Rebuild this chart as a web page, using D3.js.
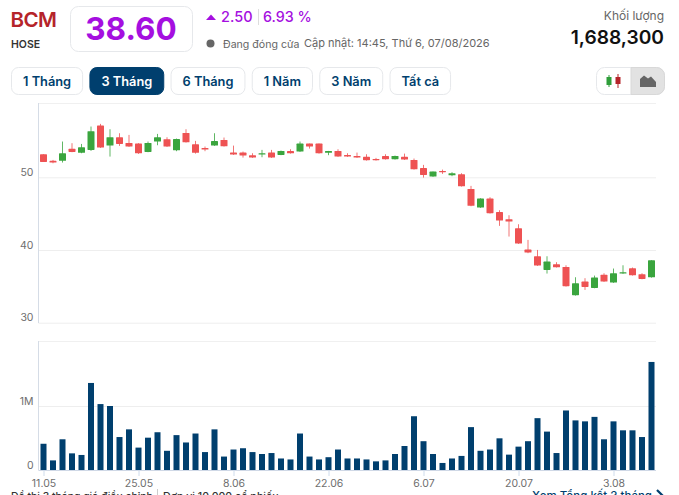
<!DOCTYPE html>
<html>
<head>
<meta charset="utf-8">
<script src="https://cdn.jsdelivr.net/npm/d3@7"></script>
<style>
html, body { margin: 0; padding: 0; background: #fff; overflow: hidden; }
svg { display: block; font-family: Inter, "Noto Sans", sans-serif; }
</style>
</head>
<body>
<script>
var dates = ['11.05','12.05','13.05','14.05','15.05','18.05','19.05','20.05','21.05','22.05',
  '25.05','26.05','27.05','28.05','29.05','1.06','2.06','3.06','4.06','5.06',
  '8.06','9.06','10.06','11.06','12.06','15.06','16.06','17.06','18.06','19.06',
  '22.06','23.06','24.06','25.06','26.06','29.06','30.06','1.07','2.07','3.07',
  '6.07','7.07','8.07','9.07','10.07','13.07','14.07','15.07','16.07','17.07',
  '20.07','21.07','22.07','23.07','24.07','27.07','28.07','29.07','30.07','31.07',
  '3.08','4.08','5.08','6.08','7.08'];

var opens = [53.17,52.26,52.26,53.91,53.36,53.77,57.12,54.36,55.51,54.73,
  54.64,53.49,54.92,55.24,53.72,56.11,54.55,54.04,54.36,55.14,
  53.40,53.40,53.04,53.13,53.40,53.08,53.63,53.54,54.64,54.64,
  53.36,53.63,53.08,52.94,52.81,52.53,52.94,52.49,52.81,52.39,
  51.29,50.10,50.88,50.28,50.42,48.40,45.84,47.07,45.24,44.23,
  42.99,40.06,39.14,37.26,38.04,37.67,33.78,35.66,34.79,36.58,
  35.52,36.76,37.49,36.67,36.25];
var highs = [53.17,52.39,54.92,54.69,54.59,56.98,57.35,56.61,56.06,55.83,
  54.69,54.92,55.97,55.51,55.33,56.61,55.01,54.23,56.06,55.47,
  54.36,53.54,53.31,53.77,53.77,53.68,53.86,54.92,54.64,54.64,
  53.63,53.86,53.31,53.40,53.17,52.67,53.17,52.99,53.26,52.58,
  51.71,50.79,51.06,50.70,50.56,48.82,47.12,47.26,45.47,44.78,
  43.54,41.39,40.01,39.14,38.32,37.90,36.25,36.12,36.48,36.80,
  37.45,37.90,37.59,36.80,38.60];
var lows = [52.12,51.93,52.03,53.45,53.31,53.63,54.04,52.85,54.32,54.18,
  53.22,53.45,54.41,54.18,53.59,54.78,53.26,53.59,54.32,54.23,
  53.08,52.71,52.67,52.76,52.67,53.04,53.26,53.49,53.95,53.26,
  53.04,52.81,52.81,52.67,52.30,52.30,52.44,52.44,52.39,51.06,
  49.96,50.06,50.47,50.15,48.73,46.02,45.79,45.02,43.32,41.85,
  40.84,39.56,37.81,36.76,37.59,34.97,33.73,34.51,34.74,35.61,
  35.48,36.71,36.48,35.97,36.20];
var closes = [52.12,52.03,53.31,53.49,54.14,56.34,54.09,55.51,54.59,54.23,
  53.31,54.73,55.51,54.23,55.28,54.82,53.36,53.81,55.01,54.27,
  53.13,52.99,52.71,53.31,52.71,53.63,53.31,54.64,54.23,53.31,
  53.63,52.85,52.85,52.71,52.35,52.35,52.49,52.94,52.44,51.11,
  50.33,50.79,50.70,50.56,48.77,46.07,47.07,45.06,44.05,43.91,
  40.89,39.65,37.86,38.41,37.63,35.02,35.43,34.92,36.21,35.66,
  36.80,36.94,36.53,36.02,38.60];
var volumes = [410000,150000,480000,260000,235000,1360000,1030000,1000000,515000,635000,
  350000,505000,590000,300000,545000,430000,570000,280000,635000,210000,
  320000,340000,280000,250000,265000,180000,165000,570000,210000,165000,
  200000,320000,180000,180000,165000,135000,150000,250000,375000,840000,
  450000,250000,110000,180000,220000,670000,300000,320000,495000,240000,
  365000,450000,810000,600000,265000,930000,775000,760000,830000,480000,
  760000,620000,620000,515000,1688300];

var dateTicks = ['11.05','25.05','8.06','22.06','6.07','20.07','3.08'];
var priceTicks = [30, 40, 50];
var volumeTicks = [0, 1000000];
var rangeLabels = ['1 Tháng','3 Tháng','6 Tháng','1 Năm','3 Năm','Tất cả'];
var activeRange = '3 Tháng';

var width = 679, height = 495;
var up = '#3aa53e', down = '#ee5253', navy = '#003f6e', purple = '#a50fe0';
var left = 38.5, right = 656;

var svg = d3.select('body').append('svg').attr('width', width).attr('height', height);

var x = d3.scalePoint().domain(dates).range([43.5, 651.5]);
var y = d3.scaleLinear().domain([30, 60]).range([322.7, 104.6]);
var yVol = d3.scaleLinear().domain([0, 2000000]).range([470, 342]);

// ---- header ----
function label(s, px, py, size, weight, color, anchor) {
  return svg.append('text').attr('x', px).attr('y', py).attr('font-size', size)
    .attr('font-weight', weight).attr('fill', color).attr('text-anchor', anchor || 'start').text(s);
}
label('BCM', 10.5, 27, 20.5, 600, '#b5242a').attr('letter-spacing', -0.5);
label('HOSE', 11, 48, 10.5, 600, '#333');
svg.append('rect').attr('x', 70.5).attr('y', 6.5).attr('width', 122).attr('height', 45).attr('rx', 8)
  .attr('fill', '#fff').attr('stroke', '#e6e8eb');
label('38.60', 131, 40, 31.5, 700, purple, 'middle');
svg.append('path').attr('d', 'M206,20L211,14.5L216,20Z').attr('fill', purple);
label('2.50', 221, 22, 14.5, 500, purple);
svg.append('line').attr('x1', 258.5).attr('x2', 258.5).attr('y1', 9).attr('y2', 25).attr('stroke', '#ddd');
label('6.93 %', 263, 22, 14.3, 500, purple);
svg.append('circle').attr('cx', 210.5).attr('cy', 43.5).attr('r', 4).attr('fill', '#666');
label('Đang đóng cửa', 223, 48, 10.6, 400, '#666');
label('Cập nhật: 14:45, Thứ 6, 07/08/2026', 304, 47, 11, 400, '#666');
label('Khối lượng', 664, 20, 12, 400, '#666', 'end');
label('1,688,300', 664, 44, 19.2, 600, '#111', 'end');

// ---- range buttons ----
var bx = 11;
rangeLabels.forEach(function(s) {
  var active = s === activeRange;
  var g = svg.append('g');
  var r = g.append('rect').attr('y', 67.5).attr('height', 27).attr('rx', 7)
    .attr('fill', active ? navy : '#fff').attr('stroke', active ? navy : '#e6e8eb');
  var t = g.append('text').attr('y', 86).attr('font-size', 12.8).attr('font-weight', 600)
    .attr('fill', active ? '#fff' : navy).attr('text-anchor', 'middle').text(s);
  var w = t.node().getComputedTextLength() + 23;
  r.attr('x', bx + 0.5).attr('width', w);
  t.attr('x', bx + 0.5 + w / 2);
  bx += w + 7.3;
});

// ---- chart type toggle ----
svg.append('rect').attr('x', 596.5).attr('y', 67.5).attr('width', 68).attr('height', 27).attr('rx', 8)
  .attr('fill', '#fff').attr('stroke', '#e6e8eb');
svg.append('path').attr('d', 'M631,67.5H656.5a8,8 0 0 1 8,8V86.5a8,8 0 0 1 -8,8H631Z')
  .attr('fill', '#e2e2e2').attr('stroke', '#d8d8d8');
svg.append('path').attr('d', 'M609,75V87').attr('stroke', '#2f9e3a');
svg.append('rect').attr('x', 606.5).attr('y', 77).attr('width', 5).attr('height', 8).attr('fill', '#2f9e3a');
svg.append('path').attr('d', 'M618,74V88').attr('stroke', '#b5242a');
svg.append('rect').attr('x', 615.5).attr('y', 77).attr('width', 5).attr('height', 7).attr('fill', '#b5242a');
svg.append('path').attr('d', 'M640,87V79L644,75.5L648,78.5L651,76.5L656,82V87Z').attr('fill', '#666');

// ---- price panel ----
var priceAxis = svg.append('g').attr('transform', 'translate(' + left + ',0)')
  .call(d3.axisLeft(y).tickValues(priceTicks).tickSize(-(right - left)).tickPadding(5));
var volAxis = svg.append('g').attr('transform', 'translate(' + left + ',0)')
  .call(d3.axisLeft(yVol).tickValues(volumeTicks).tickSize(-(right - left)).tickPadding(5)
    .tickFormat(function(d) { return d ? d / 1000000 + 'M' : '0'; }));
[priceAxis, volAxis].forEach(function(a) {
  a.select('.domain').remove();
  a.selectAll('.tick line').attr('stroke', '#eeeeee');
  a.selectAll('.tick text').attr('dy', '-0.18em').attr('fill', '#6e6e6e').attr('font-size', 10.5)
    .attr('font-family', 'Inter, sans-serif');
});

svg.append('line').attr('x1', left).attr('x2', right).attr('y1', 103.5).attr('y2', 103.5).attr('stroke', '#f0f0f0');
svg.append('line').attr('x1', left).attr('x2', right).attr('y1', 341.5).attr('y2', 341.5).attr('stroke', '#f0f0f0');
svg.append('line').attr('x1', left).attr('x2', left).attr('y1', 103).attr('y2', 323).attr('stroke', '#d5dce6');
svg.append('line').attr('x1', left).attr('x2', left).attr('y1', 341).attr('y2', 470).attr('stroke', '#d5dce6');

var candles = svg.append('g').selectAll('g').data(dates).join('g');
candles.append('line')
  .attr('x1', function(d) { return x(d); }).attr('x2', function(d) { return x(d); })
  .attr('y1', function(d, i) { return y(highs[i]); })
  .attr('y2', function(d, i) { return y(lows[i]); })
  .attr('stroke', function(d, i) { return closes[i] >= opens[i] ? up : down; })
  .attr('stroke-opacity', 0.8);
candles.append('rect')
  .attr('x', function(d) { return x(d) - 3.5; })
  .attr('width', 7)
  .attr('y', function(d, i) { return y(Math.max(opens[i], closes[i])); })
  .attr('height', function(d, i) { return Math.max(1, Math.abs(y(opens[i]) - y(closes[i]))); })
  .attr('rx', 0.6)
  .attr('fill', function(d, i) { return closes[i] >= opens[i] ? up : down; });

// ---- volume panel ----
svg.append('g').selectAll('rect').data(dates).join('rect')
  .attr('x', function(d) { return x(d) - 3; })
  .attr('width', 6)
  .attr('y', function(d, i) { return yVol(volumes[i]); })
  .attr('height', function(d, i) { return yVol(0) - yVol(volumes[i]); })
  .attr('fill', navy);

var xAxis = svg.append('g').attr('transform', 'translate(0,470)')
  .call(d3.axisBottom(x).tickValues(dateTicks).tickSize(6).tickPadding(4));
xAxis.select('.domain').attr('stroke', '#cfd8e6').attr('d', 'M' + left + ',0.5H' + right);
xAxis.selectAll('.tick line').attr('stroke', '#cfdcec');
xAxis.selectAll('.tick text').attr('fill', '#6e6e6e').attr('font-size', 10.5)
  .attr('font-family', 'Inter, sans-serif');

// ---- footer, cut off by the window like the reference ----
label('Đồ thị 3 tháng giá điều chỉnh', 11, 500, 10.4, 500, '#333');
svg.append('line').attr('x1', 157.5).attr('x2', 157.5).attr('y1', 489).attr('y2', 495).attr('stroke', '#ccc');
label('Đơn vị 10,000 cổ phiếu', 163, 500, 10.6, 500, '#333');
label('Xem Tổng kết 3 tháng', 652, 500, 11.5, 500, navy, 'end');
svg.append('path').attr('d', 'M657,490L663,496').attr('stroke', navy).attr('stroke-width', 2.2).attr('fill', 'none');
</script>
</body>
</html>
